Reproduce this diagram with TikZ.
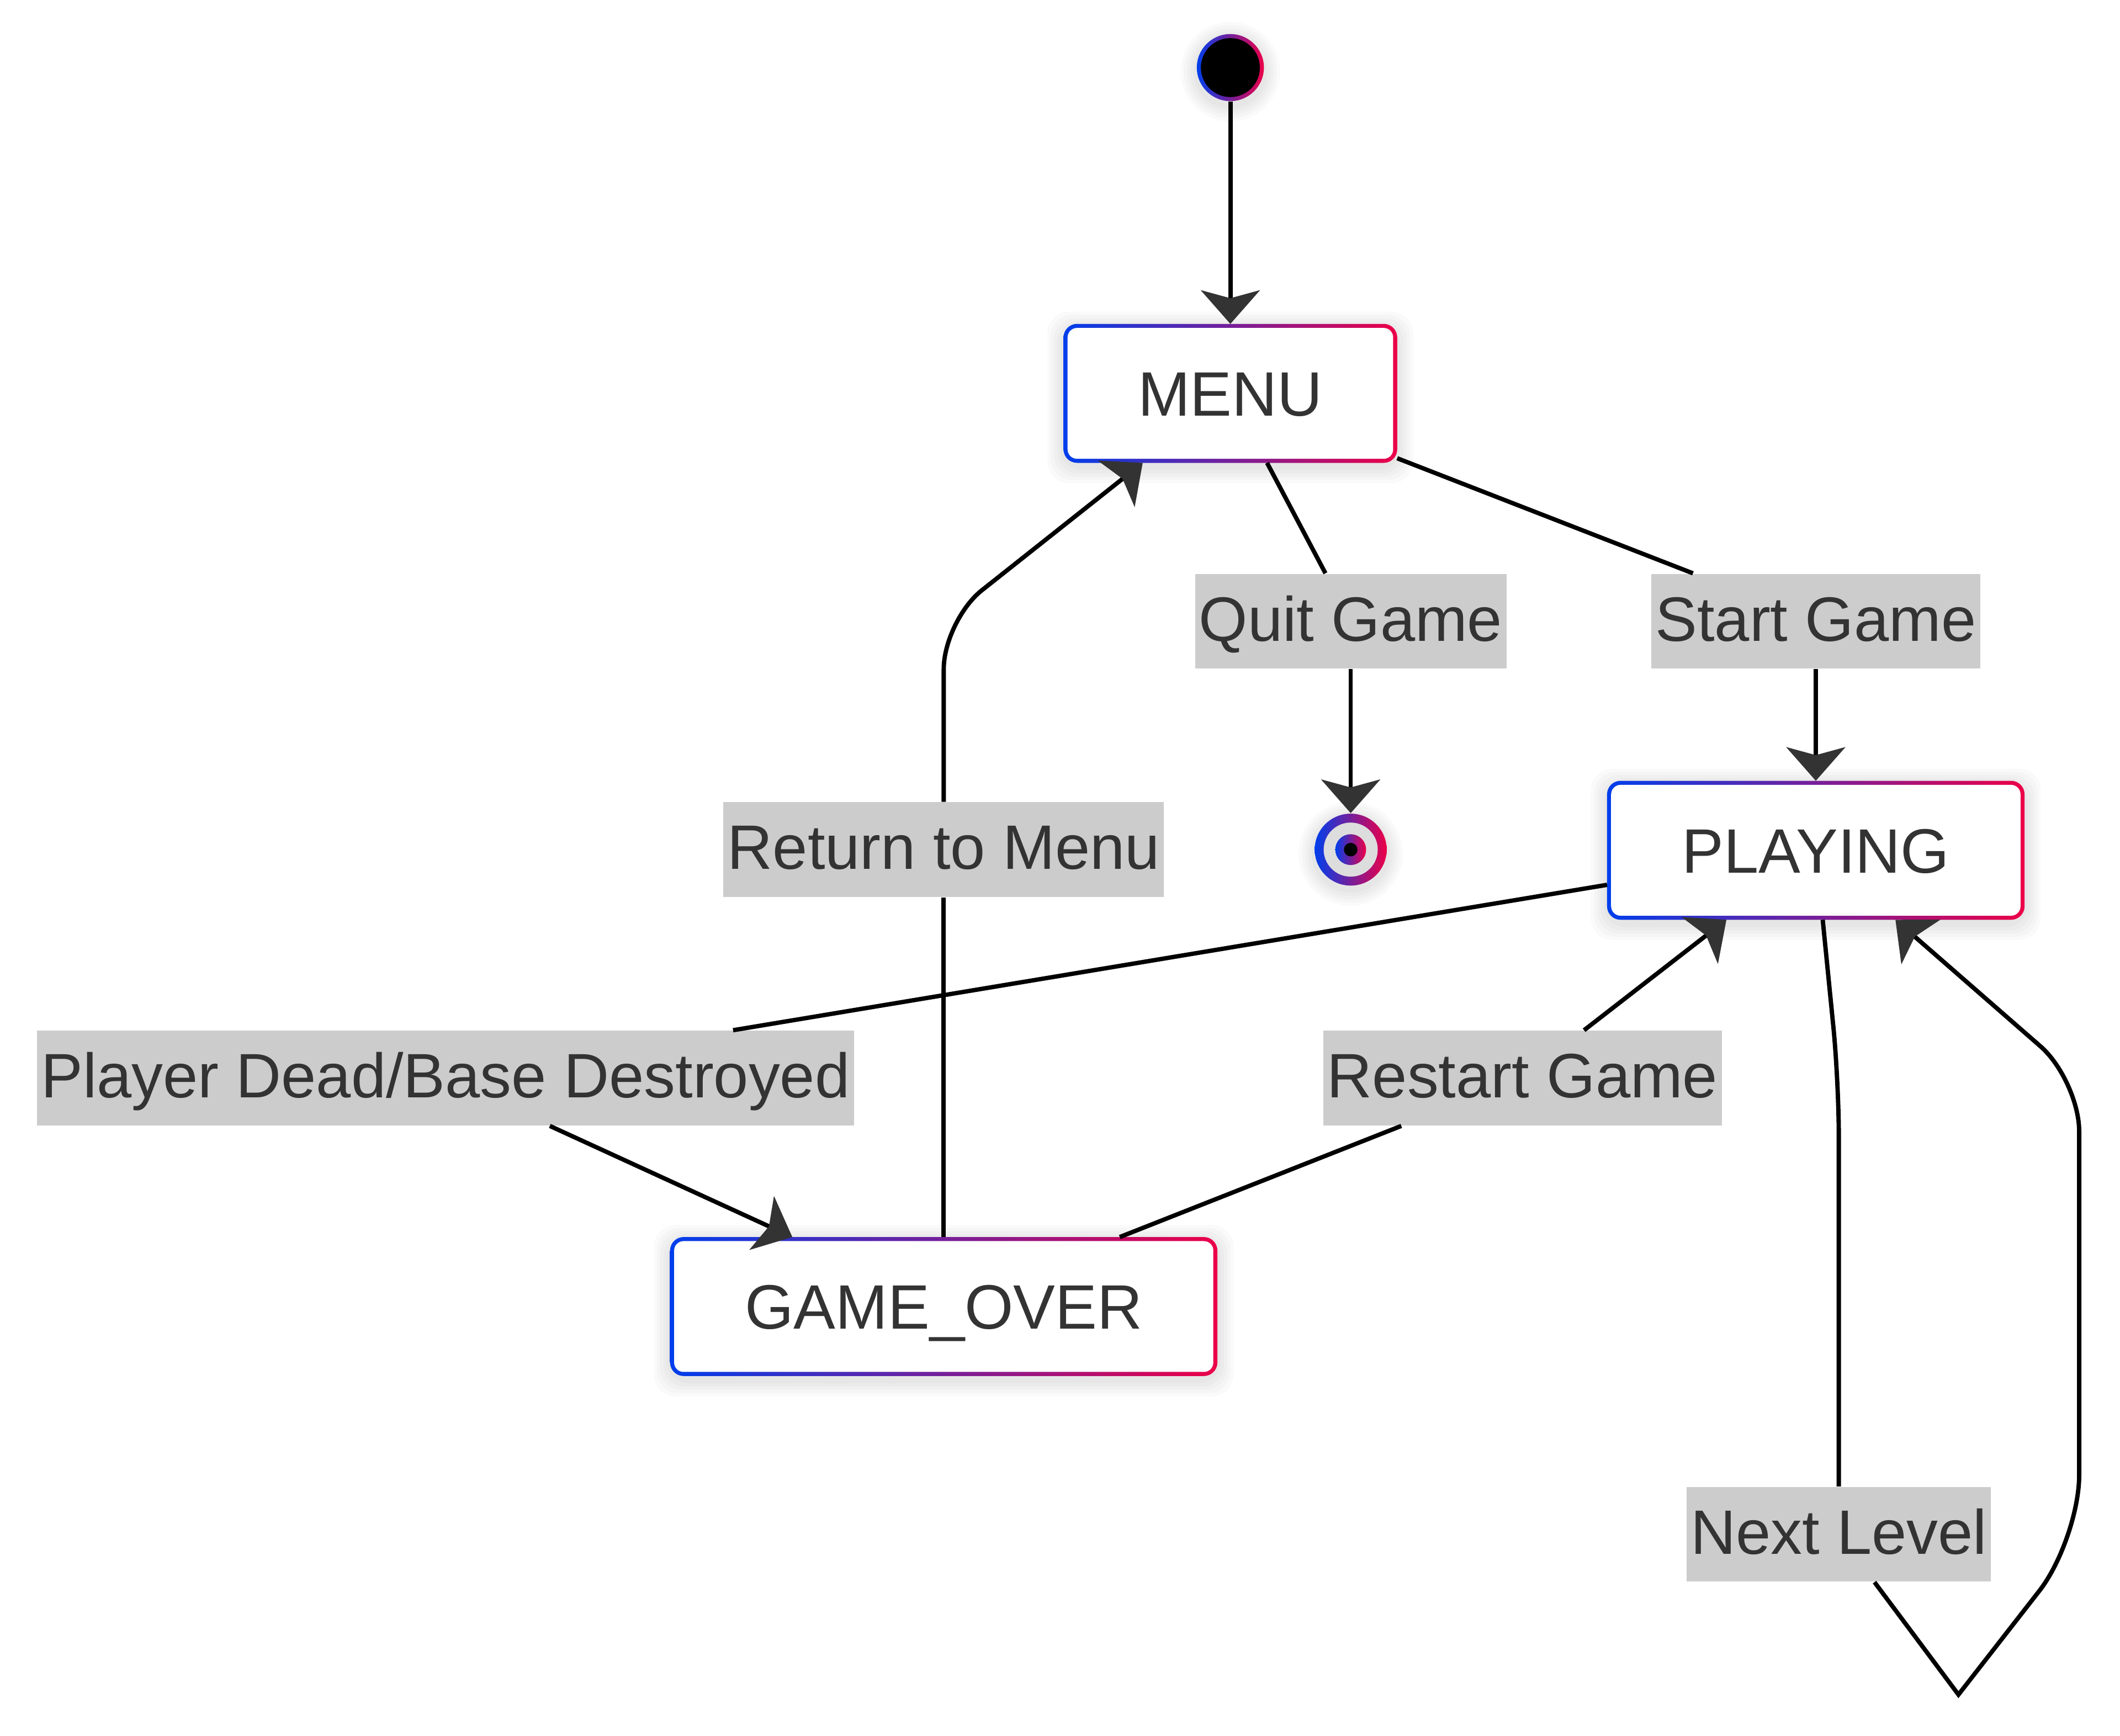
\documentclass[tikz,border=0pt]{standalone}
\usepackage{fontspec}
\setmainfont{Liberation Sans}
\usepackage{tikz}
\usetikzlibrary{arrows.meta, backgrounds, calc}

\definecolor{stateblue}{RGB}{0,62,236}
\definecolor{statered}{RGB}{236,0,72}
\definecolor{textgray}{RGB}{51,51,51}
\definecolor{labelgray}{RGB}{204,204,204}
\definecolor{ringgray}{RGB}{221,221,221}
\definecolor{arrowgray}{RGB}{51,51,51}

\begin{document}
\begin{tikzpicture}[x=0.5pt,y=0.5pt,yscale=-1,xscale=1,
  statebox/.style={rectangle, inner sep=0pt, minimum height=51pt, text=textgray,
    font=\fontsize{23.2}{27}\selectfont, text height=16.6pt, text depth=0pt},
  edgelabel/.style={rectangle, fill=labelgray, inner xsep=1.5pt, inner ysep=0pt,
    minimum height=35pt, text=textgray, font=\fontsize{23.2}{27}\selectfont,
    text height=16.6pt, text depth=2pt},
  trans/.style={draw=black, line width=1.6pt,
    -{Stealth[length=12.5pt, width=22pt, inset=3pt, color=arrowgray, line width=0pt]}},
  transline/.style={draw=black, line width=1.6pt}]
\useasboundingbox (0,0) rectangle (1568,1284.2); %set diagram size as the reference

%Shape: Initial state [id:init]
\node[circle, minimum size=24.8pt, inner sep=0pt] (init) at (910,50) {};
%Shape: States
\node[statebox, minimum width=123pt] (menu) at (910,291) {MENU};
\node[statebox, minimum width=154pt] (playing) at (1343,629) {PLAYING};
\node[statebox, minimum width=202pt] (gameover) at (698,966.5) {GAME\_OVER};
%Shape: Final state [id:final]
\node[circle, minimum size=26.6pt, inner sep=0pt] (final) at (999,628.5) {};

%Text: edge labels
\node[edgelabel] (quitlbl) at (999,459.5) {Quit Game};
\node[edgelabel] (startlbl) at (1343,459.5) {Start Game};
\node[edgelabel] (returnlbl) at (698,628.5) {Return to Menu};
\node[edgelabel] (deadlbl) at (329.5,797.5) {Player Dead/Base Destroyed};
\node[edgelabel] (restartlbl) at (1126,797.5) {Restart Game};
\node[edgelabel] (nextlbl) at (1360,1135) {Next Level};

%Bends of the curved edges
\coordinate (retbend) at (698,459);
\coordinate (nxtbend) at (1360,800);
\coordinate (loopbot) at (1448.5,1253.6);
\coordinate (looprb) at (1537.8,1139);
\coordinate (looprt) at (1537.8,799);

\begin{scope}[on background layer]
\fill[white] (0,0) rectangle (1568,1284.2);
%soft shadows
\foreach \n in {menu,playing,gameover}{
  \foreach \s in {1,...,5}
    \fill[black, opacity=0.02, rounded corners=8pt] ($(\n.south west)+(-2.4*\s,2.4*\s+3)$) rectangle ($(\n.north east)+(2.4*\s,-2.4*\s+3)$);
}
\foreach \s in {1,...,5}{
  \fill[black, opacity=0.02] ($(init.center)+(0,3)$) circle (12.4pt+\s*1.2pt);
  \fill[black, opacity=0.02] ($(final.center)+(0,3)$) circle (13.3pt+\s*1.2pt);
}
%gradient borders
\foreach \n in {menu,playing,gameover}{
  \shade[left color=stateblue, right color=statered, rounded corners=5pt] (\n.south west) rectangle (\n.north east);
  \fill[white, rounded corners=3.5pt] ($(\n.south west)+(3,-3)$) rectangle ($(\n.north east)+(-3,3)$);
}
\end{scope}

%Initial and final state discs
\shade[left color=stateblue, right color=statered] (init.center) circle (12.4pt);
\fill[black] (init.center) circle (10.9pt);
\shade[left color=stateblue, right color=statered] (final.center) circle (13.3pt);
\fill[ringgray] (final.center) circle (10pt);
\shade[left color=stateblue, right color=statered] (final.center) circle (5.7pt);
\fill[black] (final.center) circle (2.5pt);

%Straight Lines
\draw[trans] (init) -- (menu);
\draw[transline] (menu) -- (quitlbl);
\draw[trans] (quitlbl) -- (final);
\draw[transline] (menu) -- (startlbl);
\draw[trans] (startlbl) -- (playing);
\draw[transline] (playing) -- (deadlbl);
\draw[trans] (deadlbl) -- (gameover);
\draw[transline] (gameover) -- (restartlbl);
\draw[trans] (restartlbl) -- (playing);
\draw[transline] (gameover) -- (returnlbl);
%Curve Lines
\draw[trans, rounded corners=18pt] (returnlbl) -- (retbend) -- (menu);
\draw[transline, rounded corners=20pt] (playing) -- (nxtbend) -- (nextlbl);
\draw[trans] (nextlbl) -- (loopbot) [rounded corners=24pt] -- (looprb) [rounded corners=19pt] -- (looprt) -- (playing);

\end{tikzpicture}
\end{document}
